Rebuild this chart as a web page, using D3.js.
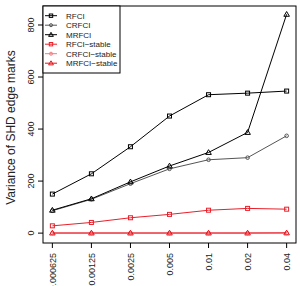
<!DOCTYPE html>
<html>
<head>
<meta charset="utf-8">
<script src="https://cdn.jsdelivr.net/npm/d3@7"></script>
<style>
  body { margin: 0; background: #fff; }
  text { font-family: "Liberation Sans", Arial, sans-serif; }
</style>
</head>
<body>
<svg id="main" width="300" height="286"></svg>
<script>
const width = 300;
const height = 286;
const box = { left: 43, top: 6, right: 296, bottom: 243 };

const alphas = ['0.000625', '0.00125', '0.0025', '0.005', '0.01', '0.02', '0.04'];
const yTicks = [0, 200, 400, 600, 800];

const rfci = [150, 228, 332, 450, 532, 538, 546];
const crfci = [86, 130, 190, 247, 282, 290, 374];
const mrfci = [88, 132, 197, 258, 310, 387, 841];
const rfciStable = [28, 41, 59, 72, 88, 95, 92];
const crfciStable = [0.5, 0.5, 0.5, 0.5, 0.5, 0.5, 0.5];
const mrfciStable = [0.3, 0.3, 0.3, 0.3, 0.3, 0.3, 0.8];

const series = [
    { name: 'RFCI', values: rfci, color: '#000000', shape: 'square' },
    { name: 'CRFCI', values: crfci, color: '#555555', shape: 'circle' },
    { name: 'MRFCI', values: mrfci, color: '#000000', shape: 'triangle' },
    { name: 'RFCI\u2212stable', values: rfciStable, color: '#e8202a', shape: 'square' },
    { name: 'CRFCI\u2212stable', values: crfciStable, color: '#f07a80', shape: 'circle' },
    { name: 'MRFCI\u2212stable', values: mrfciStable, color: '#e8101a', shape: 'triangle' }
];

const svg = d3.select('#main');

const x = d3.scaleLinear().domain([0.76, 7.24]).range([box.left, box.right]);
const y = d3.scaleLinear().domain([-38, 873]).range([box.bottom, box.top]);

// plot frame
svg.append('rect')
    .attr('x', box.left).attr('y', box.top)
    .attr('width', box.right - box.left).attr('height', box.bottom - box.top)
    .attr('fill', 'none').attr('stroke', '#000').attr('stroke-width', 1);

// y axis
const yAxis = svg.append('g');
yAxis.selectAll('line')
    .data(yTicks)
    .join('line')
    .attr('x1', box.left - 5).attr('x2', box.left)
    .attr('y1', d => y(d)).attr('y2', d => y(d))
    .attr('stroke', '#000');
yAxis.selectAll('text')
    .data(yTicks)
    .join('text')
    .attr('transform', d => `translate(${box.left - 9}, ${y(d)}) rotate(-90)`)
    .attr('text-anchor', 'middle')
    .attr('font-size', 9)
    .attr('fill', '#222')
    .text(d => d);

// x axis
const xAxis = svg.append('g');
xAxis.selectAll('line')
    .data(alphas)
    .join('line')
    .attr('x1', (d, i) => x(i + 1)).attr('x2', (d, i) => x(i + 1))
    .attr('y1', box.bottom).attr('y2', box.bottom + 5)
    .attr('stroke', '#000');
xAxis.selectAll('text')
    .data(alphas)
    .join('text')
    .attr('transform', (d, i) => `translate(${x(i + 1) + 3.3}, ${box.bottom + 10}) rotate(-90)`)
    .attr('text-anchor', 'end')
    .attr('font-size', 9)
    .attr('fill', '#222')
    .text(d => d);

svg.append('text')
    .attr('transform', `translate(15, ${(box.top + box.bottom) / 2 + 3}) rotate(-90)`)
    .attr('text-anchor', 'middle')
    .attr('font-size', 12)
    .attr('fill', '#222')
    .text('Variance of SHD edge marks');

function drawSymbol(g, shape, cx, cy, color, k) {
    if (shape === 'square') {
        const s = 2 * k;
        g.append('rect')
            .attr('x', cx - s).attr('y', cy - s)
            .attr('width', 2 * s).attr('height', 2 * s)
            .attr('fill', 'none').attr('stroke', color);
    } else if (shape === 'circle') {
        g.append('circle')
            .attr('cx', cx).attr('cy', cy).attr('r', 1.8 * k)
            .attr('fill', 'none').attr('stroke', color);
    } else {
        const s = 2.8 * k;
        g.append('path')
            .attr('d', `M${cx},${cy - s}L${cx + s},${cy + s * 0.7}L${cx - s},${cy + s * 0.7}Z`)
            .attr('fill', 'none').attr('stroke', color);
    }
}

const line = d3.line().x((d, i) => x(i + 1)).y(d => y(d));

series.forEach(s => {
    const g = svg.append('g');
    g.append('path')
        .attr('d', line(s.values))
        .attr('fill', 'none')
        .attr('stroke', s.color)
        .attr('stroke-width', 1);
    s.values.forEach((v, i) => drawSymbol(g, s.shape, x(i + 1), y(v), s.color, 1));
});

// legend
const legend = svg.append('g');
legend.append('rect')
    .attr('x', box.left).attr('y', box.top)
    .attr('width', 77).attr('height', 67)
    .attr('fill', '#fff').attr('stroke', '#000');
series.forEach((s, i) => {
    const ly = 15.7 + i * 9.5;
    legend.append('line')
        .attr('x1', 45).attr('x2', 57)
        .attr('y1', ly).attr('y2', ly)
        .attr('stroke', s.color);
    drawSymbol(legend, s.shape, 51, ly, s.color, 0.85);
    legend.append('text')
        .attr('x', 66).attr('y', ly + 2.8)
        .attr('font-size', 8)
        .attr('fill', '#222')
        .text(s.name);
});
</script>
</body>
</html>
